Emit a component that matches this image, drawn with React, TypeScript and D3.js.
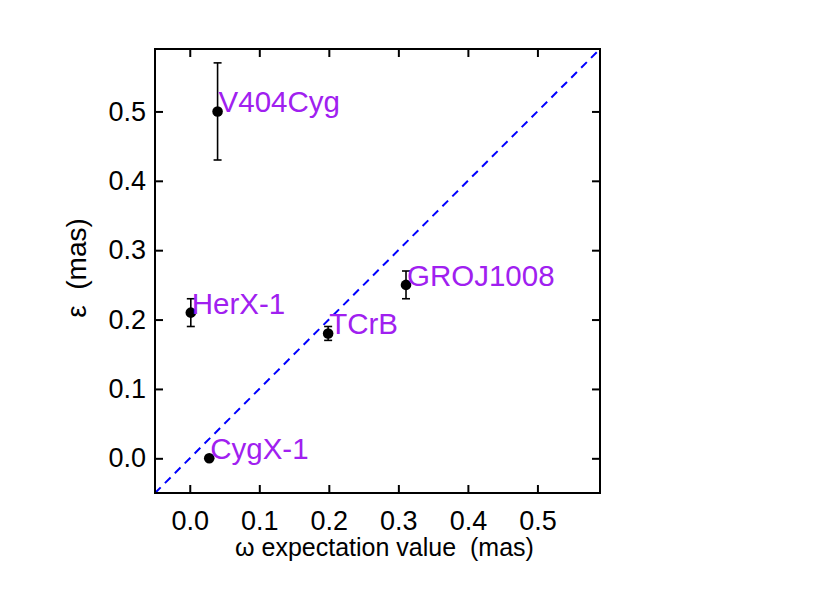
import { useEffect, useRef } from 'react'
import * as d3 from 'd3'

// source names and measured values (mas)
const names = ['V404Cyg', 'HerX-1', 'TCrB', 'GROJ1008', 'CygX-1']
const omega = [0.04, 0.0015, 0.199, 0.311, 0.028]
const eps = [0.5, 0.21, 0.18, 0.25, 0.0]
const epsErr = [0.07, 0.02, 0.01, 0.02, 0]

const xTicks = [0.0, 0.1, 0.2, 0.3, 0.4, 0.5]
const yTicks = [0.0, 0.1, 0.2, 0.3, 0.4, 0.5]
const domain: [number, number] = [-0.05, 0.59]

export default function App() {
  const svgRef = useRef<SVGSVGElement>(null)

  useEffect(() => {
    if (!svgRef.current) return
    const svg = d3.select(svgRef.current)
    svg.selectAll('*').remove()

    const left = 155, right = 600, top = 49, bottom = 493
    const font = 'Liberation Sans, Arial, Helvetica, sans-serif'

    const x = d3.scaleLinear().domain(domain).range([left, right])
    const y = d3.scaleLinear().domain(domain).range([bottom, top])

    // diagonal y = x
    svg.append('line')
      .attr('x1', x(domain[0])).attr('y1', y(domain[0]))
      .attr('x2', x(domain[1])).attr('y2', y(domain[1]))
      .attr('stroke', '#0000ff')
      .attr('stroke-width', 2)
      .attr('stroke-dasharray', '8,6')

    // axes, ticks pointing inward
    const styleAxis = (g: d3.Selection<SVGGElement, unknown, null, undefined>) => {
      g.selectAll('.domain').remove()
      g.selectAll('.tick line').attr('stroke', '#000').attr('stroke-width', 2)
      g.selectAll('.tick text')
        .attr('fill', '#000')
        .style('font-family', font)
        .style('font-size', '27px')
    }

    svg.append('g')
      .attr('transform', `translate(0,${bottom})`)
      .call(d3.axisBottom(x).tickValues(xTicks).tickSizeInner(-8).tickSizeOuter(0)
        .tickPadding(18).tickFormat(d3.format('.1f')) as any)
      .call(styleAxis)

    svg.append('g')
      .attr('transform', `translate(0,${top})`)
      .call(d3.axisTop(x).tickValues(xTicks).tickSizeInner(-8).tickSizeOuter(0)
        .tickFormat(() => '') as any)
      .call(styleAxis)

    svg.append('g')
      .attr('transform', `translate(${left},0)`)
      .call(d3.axisLeft(y).tickValues(yTicks).tickSizeInner(-8).tickSizeOuter(0)
        .tickPadding(9).tickFormat(d3.format('.1f')) as any)
      .call(styleAxis)

    svg.append('g')
      .attr('transform', `translate(${right},0)`)
      .call(d3.axisRight(y).tickValues(yTicks).tickSizeInner(-8).tickSizeOuter(0)
        .tickFormat(() => '') as any)
      .call(styleAxis)

    // frame
    svg.append('rect')
      .attr('x', left).attr('y', top)
      .attr('width', right - left).attr('height', bottom - top)
      .attr('fill', 'none')
      .attr('stroke', '#000')
      .attr('stroke-width', 2)

    const idx = d3.range(names.length)

    // error bars
    const errG = svg.append('g').attr('stroke', '#000').attr('stroke-width', 1.6)
    idx.filter(i => epsErr[i] > 0).forEach(i => {
      const cx = x(omega[i])
      const y0 = y(eps[i] - epsErr[i]), y1 = y(eps[i] + epsErr[i])
      errG.append('line').attr('x1', cx).attr('x2', cx).attr('y1', y0).attr('y2', y1)
      errG.append('line').attr('x1', cx - 4).attr('x2', cx + 4).attr('y1', y0).attr('y2', y0)
      errG.append('line').attr('x1', cx - 4).attr('x2', cx + 4).attr('y1', y1).attr('y2', y1)
    })

    svg.selectAll('.pt')
      .data(idx)
      .enter().append('circle')
      .attr('class', 'pt')
      .attr('cx', i => x(omega[i]))
      .attr('cy', i => y(eps[i]))
      .attr('r', 5.3)
      .attr('fill', '#000')

    svg.selectAll('.lbl')
      .data(idx)
      .enter().append('text')
      .attr('class', 'lbl')
      .attr('x', i => x(omega[i]) + 1)
      .attr('y', i => y(eps[i]) + 1)
      .attr('fill', '#a020f0')
      .style('font-family', font)
      .style('font-size', '29.5px')
      .text(i => names[i])

    // axis titles
    svg.append('text')
      .attr('x', (left + right) / 2 + 7)
      .attr('y', 556)
      .attr('text-anchor', 'middle')
      .attr('fill', '#000')
      .style('font-family', font)
      .style('font-size', '25px')
      .style('white-space', 'pre')
      .text('ω expectation value  (mas)')

    svg.append('text')
      .attr('transform', `translate(86,268) rotate(-90)`)
      .attr('text-anchor', 'middle')
      .attr('fill', '#000')
      .style('font-family', font)
      .style('font-size', '28px')
      .style('white-space', 'pre')
      .text('ε  (mas)')
  }, [])

  return (
    <svg
      ref={svgRef}
      width={830}
      height={593}
      style={{ position: 'absolute', left: 0, top: 0, background: '#fff' }}
    />
  )
}
